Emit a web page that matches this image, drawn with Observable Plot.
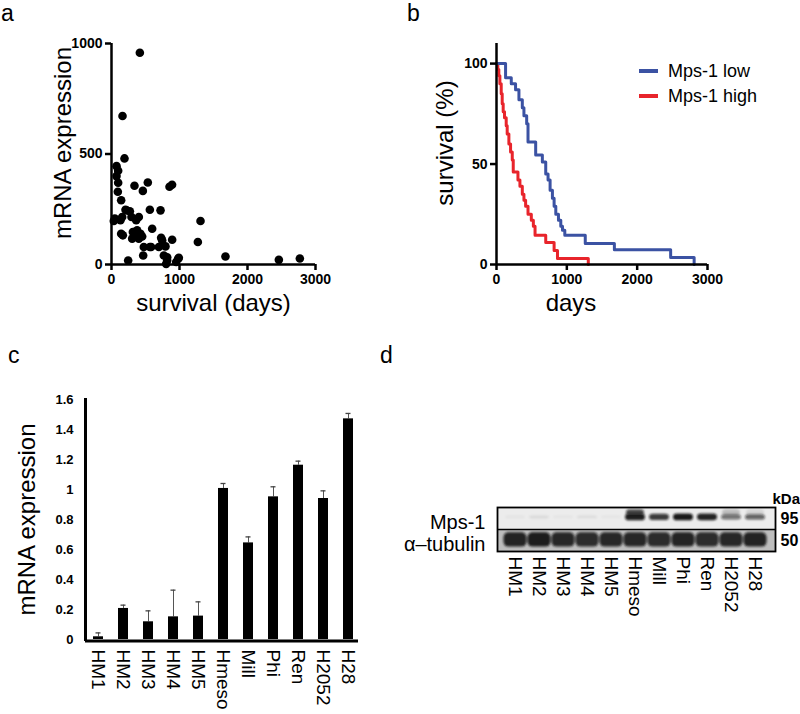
<!DOCTYPE html>
<html><head><meta charset="utf-8">
<script src="https://cdn.jsdelivr.net/npm/d3@7"></script>
<script src="https://cdn.jsdelivr.net/npm/@observablehq/plot@0.6"></script>
<style>
body{margin:0;background:#fff;}
#fig{position:relative;width:800px;height:714px;overflow:hidden;font-family:Arial,"Liberation Sans",sans-serif;color:#000;}
#fig svg{position:absolute;}
.let{position:absolute;font-size:23px;line-height:12px;}
.leg{position:absolute;font-size:18px;line-height:20px;display:flex;align-items:center;white-space:nowrap;}
.leg span.sw{display:inline-block;width:19px;height:4px;margin-right:10px;}
</style></head><body><div id="fig"></div>
<script>
// ---------- data ----------
// panel a: survival (days) vs mRNA expression
const survivalDays = [417,162,191,74,98,74,98,93,142,338,534,461,853,891,221,270,564,721,49,34,132,294,363,402,142,167,314,353,304,402,451,598,426,377,475,564,696,730,892,794,466,245,770,819,804,980,951,1309,1270,1676,2461,2770,206,157,745,583,819,990];
const mrnaLevel    = [958,672,480,445,424,400,370,329,291,356,371,333,352,361,245,241,248,245,208,197,200,215,200,215,139,132,147,127,117,117,127,162,139,155,79,79,79,121,112,82,41,18,41,33,3,26,11,197,102,36,21,27,248,215,109,79,18,30];
const xTicksA = [0,1000,2000,3000];
const yTicksA = [0,500,1000];
// panel b: Kaplan-Meier curves
const lowDays  = [0,129,210,271,319,367,390,429,448,557,652,700,733,762,795,819,843,881,914,938,971,1262,1676,2476,2810];
const lowSurv  = [100,93,90,87,82,78,74,70,61,54.5,51,45,42,37,33,29,25,22,19,17,14.5,10.5,7.3,3.5,0];
const highDays = [0,19,33,48,67,81,95,114,138,152,176,200,224,238,305,333,367,390,414,448,495,524,548,700,819,867,1305];
const highSurv = [100,97,94,90,85,80,76,73,69,65,60,56,52,46,42,39,35,32,29,25,22,19,14.5,11,7,3,0];
const xTicksB = [0,1000,2000,3000];
const yTicksB = [0,50,100];
// panel c: bar chart
const cellLines  = ["HM1","HM2","HM3","HM4","HM5","Hmeso","Mill","Phi","Ren","H2052","H28"];
const expression = [0.018,0.207,0.118,0.151,0.156,1.007,0.644,0.951,1.162,0.94,1.471];
const errorTop   = [0.044,0.229,0.191,0.329,0.251,1.04,0.684,1.018,1.189,0.991,1.507];
const yTicksC    = [0,0.2,0.4,0.6,0.8,1,1.2,1.4,1.6];
// panel d: western blot band intensities (0..1)
const mps1Band    = [0.04,0.08,0.03,0.07,0.03,0.92,0.8,0.95,0.9,0.55,0.62];
const mps1Upper   = [0,0,0,0,0,0.75,0,0,0,0.2,0.1];
const tubulinBand = [0.93,0.96,0.9,0.88,0.9,0.9,0.88,0.92,0.88,0.9,0.93];
const rowLabels   = ["Mps-1","α–tubulin"];
const kdaLabels   = ["95","50"];

const FONT = "Arial, 'Liberation Sans', sans-serif";
const fig = document.getElementById("fig");
function place(svg, left, top){ svg.style.left = left+"px"; svg.style.top = top+"px"; fig.appendChild(svg); }

// ---------- panel a ----------
const ptsA = survivalDays.map((d,i)=>({days:d, mrna:mrnaLevel[i]}));
const plotA = Plot.plot({
  width:400, height:340, marginLeft:111, marginRight:85, marginTop:43, marginBottom:76,
  style:{fontFamily:FONT, background:"transparent", overflow:"visible"},
  x:{domain:[0,3000]}, y:{domain:[0,1000]},
  marks:[
    Plot.dot(ptsA,{x:"days", y:"mrna", r:4.3, fill:"black", stroke:"none"}),
    Plot.ruleX([0],{strokeWidth:2.5}),
    Plot.ruleY([0],{strokeWidth:2.5}),
    Plot.axisX({ticks:xTicksA, tickSize:6, tickPadding:4, tickFormat:"d", fontSize:14, fontWeight:"bold", strokeWidth:2.5, label:null}),
    Plot.axisY({ticks:yTicksA, tickSize:6, tickPadding:3, tickFormat:"d", fontSize:14, fontWeight:"bold", strokeWidth:2.5, label:null}),
    Plot.text(["survival (days)"],{text:d=>d, frameAnchor:"bottom", dy:46, fontSize:24}),
    Plot.text(["mRNA expression"],{text:d=>d, frameAnchor:"left", textAnchor:"middle", dx:-48, dy:-11, rotate:-90, fontSize:24})
  ]
});
place(plotA, 0, 0);

// ---------- panel b ----------
const lowPts  = lowDays.map((d,i)=>({days:d, surv:lowSurv[i]}));
const highPts = highDays.map((d,i)=>({days:d, surv:highSurv[i]}));
const plotB = Plot.plot({
  width:400, height:340, marginLeft:96, marginRight:93, marginTop:43, marginBottom:76,
  style:{fontFamily:FONT, background:"transparent", overflow:"visible"},
  x:{domain:[0,3000]}, y:{domain:[0,110]},
  marks:[
    Plot.line(highPts,{x:"days", y:"surv", curve:"step-after", stroke:"#e8242b", strokeWidth:3}),
    Plot.line(lowPts,{x:"days", y:"surv", curve:"step-after", stroke:"#3b52a3", strokeWidth:3}),
    Plot.ruleX([0],{strokeWidth:2.5}),
    Plot.ruleY([0],{strokeWidth:2.5}),
    Plot.axisX({ticks:xTicksB, tickSize:6, tickPadding:4, tickFormat:"d", fontSize:14, fontWeight:"bold", strokeWidth:2.5, label:null}),
    Plot.axisY({ticks:yTicksB, tickSize:6, tickPadding:3, tickFormat:"d", fontSize:14, fontWeight:"bold", strokeWidth:2.5, label:null}),
    Plot.text(["days"],{text:d=>d, frameAnchor:"bottom", dx:-31, dy:46, fontSize:24}),
    Plot.text(["survival (%)"],{text:d=>d, frameAnchor:"left", textAnchor:"middle", dx:-51, dy:-11, rotate:-90, fontSize:24})
  ]
});
place(plotB, 400, 0);

// legend for panel b
[["Mps-1 low","#3b52a3",61],["Mps-1 high","#e8242b",86]].forEach(([t,c,top])=>{
  const d = document.createElement("div");
  d.className = "leg"; d.style.left = "639px"; d.style.top = top+"px";
  d.innerHTML = `<span class="sw" style="background:${c}"></span><span>${t}</span>`;
  fig.appendChild(d);
});

// ---------- panel c ----------
const barsC = cellLines.map((c,i)=>({line:c, v:expression[i], err:errorTop[i]}));
const plotC = Plot.plot({
  width:400, height:374, marginLeft:85, marginRight:42, marginTop:59, marginBottom:75,
  style:{fontFamily:FONT, background:"transparent", overflow:"visible"},
  x:{type:"band", domain:cellLines, range:[93,353], paddingInner:0.6, paddingOuter:0},
  y:{domain:[0,1.6]},
  marks:[
    Plot.ruleX(barsC,{x:"line", y1:"v", y2:"err", stroke:"#555", strokeWidth:1}),
    Plot.tickY(barsC,{x:"line", y:"err", stroke:"#444", strokeWidth:1.3, insetLeft:2.5, insetRight:2.5}),
    Plot.barY(barsC,{x:"line", y:"v", fill:"black"}),
    Plot.ruleY([0],{strokeWidth:3, dy:1.5}),
    Plot.frame({anchor:"left", strokeWidth:3}),
    Plot.axisY({ticks:yTicksC, tickSize:0, tickPadding:12, tickFormat:d=>String(d), fontSize:13, fontWeight:"bold", label:null}),
    Plot.axisX({tickSize:0, tickPadding:10, tickRotate:90, fontSize:19, label:null}),
    Plot.text(["mRNA expression"],{text:d=>d, frameAnchor:"left", textAnchor:"middle", dx:-58, rotate:-90, fontSize:24})
  ]
});
place(plotC, 0, 340);

// ---------- panel d ----------
const lanes = cellLines.map((c,i)=>({lane:c, m:mps1Band[i], u:mps1Upper[i], t:tubulinBand[i]}));
const plotD = Plot.plot({
  width:400, height:254, marginLeft:97, marginRight:25, marginTop:47, marginBottom:163,
  style:{fontFamily:FONT, background:"transparent", overflow:"visible"},
  x:{type:"band", domain:cellLines, range:[99.3,371], padding:0},
  y:{domain:[0,2], axis:null},
  opacity:{type:"identity"},
  marks:[
    Plot.barY([0],{y1:1, y2:2, fill:"#ececec"}),
    Plot.barY([0],{y1:0, y2:1, fill:"#bdbdbd"}),
    Plot.barY(lanes,{x:"lane", y1:d=>1.55-0.06-0.1*d.m, y2:d=>1.55+0.06+0.1*d.m, fill:"#111", fillOpacity:"m", insetLeft:2, insetRight:2, rx:4}),
    Plot.barY(lanes,{x:"lane", y1:d=>1.62, y2:d=>1.9, fill:"#111", fillOpacity:"u", insetLeft:3, insetRight:3, rx:4}),
    Plot.barY(lanes,{x:"lane", y1:0.2, y2:0.85, fill:"#151515", fillOpacity:"t", insetLeft:0.5, insetRight:0.5, rx:5}),
    Plot.ruleY([1],{strokeWidth:1.5}),
    Plot.frame({stroke:"black", strokeWidth:1.8}),
    Plot.text(rowLabels,{text:d=>d, y:(d,i)=>1.5-i, frameAnchor:"left", textAnchor:"end", dx:-12, dy:4, fontSize:20}),
    Plot.text(kdaLabels,{text:d=>d, y:(d,i)=>1.5-i, frameAnchor:"right", textAnchor:"start", dx:5, fontSize:16, fontWeight:"bold"}),
    Plot.text(["kDa"],{text:d=>d, frameAnchor:"top-right", textAnchor:"start", dx:-3, dy:-14, fontSize:15, fontWeight:"bold"}),
    Plot.axisX({tickSize:0, tickPadding:5, tickRotate:90, fontSize:19, label:null})
  ]
});
// blur the blot bands to mimic film
const ns = "http://www.w3.org/2000/svg";
const defs = document.createElementNS(ns,"defs");
defs.innerHTML = '<filter id="blotblur" x="-20%" y="-50%" width="140%" height="200%"><feGaussianBlur stdDeviation="1.3"/></filter>';
plotD.insertBefore(defs, plotD.firstChild);
const bars = plotD.querySelectorAll('g[aria-label="bar"]');
bars.forEach((g,i)=>{ if(i>=2) g.setAttribute("filter","url(#blotblur)"); });
place(plotD, 400, 460);

// ---------- panel letters ----------
[["a",1,7],["b",407,7],["c",8,349],["d",380,349]].forEach(([t,x,y])=>{
  const d = document.createElement("div");
  d.className = "let"; d.style.left = x+"px"; d.style.top = y+"px"; d.textContent = t;
  fig.appendChild(d);
});
</script></body></html>
